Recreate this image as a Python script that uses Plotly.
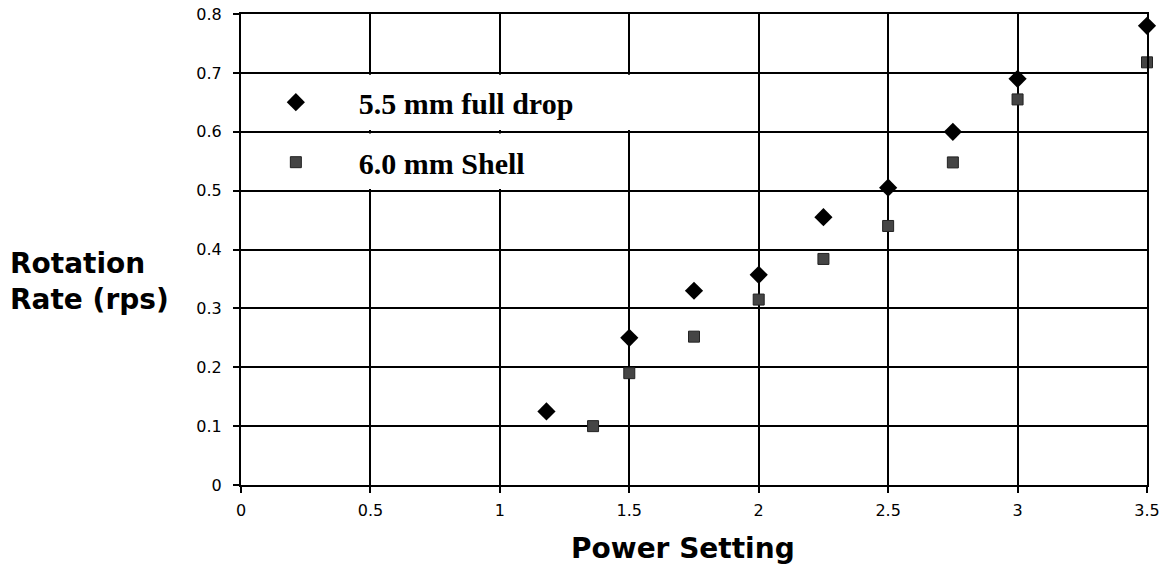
import plotly.graph_objects as go

# Data
power_full = [1.18, 1.5, 1.75, 2.0, 2.25, 2.5, 2.75, 3.0, 3.5]
rate_full = [0.125, 0.25, 0.33, 0.357, 0.455, 0.505, 0.60, 0.69, 0.78]
power_shell = [1.36, 1.5, 1.75, 2.0, 2.25, 2.5, 2.75, 3.0, 3.5]
rate_shell = [0.10, 0.19, 0.252, 0.315, 0.384, 0.44, 0.548, 0.655, 0.718]
series_names = ["5.5 mm full drop", "6.0 mm Shell"]
x_ticks = [0, 0.5, 1, 1.5, 2, 2.5, 3, 3.5]
y_ticks = [0, 0.1, 0.2, 0.3, 0.4, 0.5, 0.6, 0.7, 0.8]

fig = go.Figure()
fig.add_trace(go.Scatter(
    x=power_full, y=rate_full, mode="markers", name=series_names[0],
    legendgroup="a", cliponaxis=False,
    marker=dict(symbol="diamond", size=14, color="black"),
))
fig.add_trace(go.Scatter(
    x=power_shell, y=rate_shell, mode="markers", name=series_names[1],
    legendgroup="b", cliponaxis=False,
    marker=dict(symbol="square", size=11, color="#454545",
                line=dict(color="#222", width=1)),
))

# white area behind legend (hides vertical grid lines there)
fig.add_shape(type="rect", layer="between", xref="x", yref="y",
              x0=0.02, x1=1.75, y0=0.603, y1=0.697,
              fillcolor="white", line=dict(width=0))
fig.add_shape(type="rect", layer="between", xref="x", yref="y",
              x0=0.02, x1=1.45, y0=0.503, y1=0.597,
              fillcolor="white", line=dict(width=0))

fig.update_layout(
    width=1169, height=566,
    margin=dict(l=241, r=22, t=14, b=81, autoexpand=False),
    paper_bgcolor="white", plot_bgcolor="white",
    showlegend=True,
    legend=dict(
        x=-0.009, y=0.868, xanchor="left", yanchor="top",
        bgcolor="rgba(0,0,0,0)", borderwidth=0,
        itemwidth=116, tracegroupgap=18,
        font=dict(family="Liberation Serif", size=30, color="black", weight="bold"),
    ),
    font=dict(family="DejaVu Sans", color="black"),
)
fig.update_xaxes(
    range=[0, 3.5], tickvals=x_ticks, ticktext=[str(v) for v in x_ticks],
    showgrid=True, gridcolor="black", gridwidth=2,
    showline=True, linecolor="black", linewidth=2, mirror=True,
    ticks="outside", ticklen=6, tickwidth=2, tickcolor="black",
    ticklabelstandoff=4, ticklabeloverflow="allow", automargin=False,
    tickfont=dict(size=16, family="DejaVu Sans"), zeroline=False,
)
fig.update_yaxes(
    range=[0, 0.8001], tickvals=y_ticks, ticktext=[str(v) for v in y_ticks],
    showgrid=True, gridcolor="black", gridwidth=2,
    showline=True, linecolor="black", linewidth=2, mirror=True,
    ticks="outside", ticklen=6, tickwidth=2, tickcolor="black",
    ticklabelstandoff=8, ticklabeloverflow="allow", automargin=False,
    tickfont=dict(size=16, family="DejaVu Sans"), zeroline=False,
)
fig.add_annotation(
    text="Rotation<br>Rate (rps)", xref="paper", yref="paper",
    x=-0.257, y=0.433, xanchor="left", yanchor="middle", align="left",
    showarrow=False, font=dict(size=28, family="DejaVu Sans", weight="bold"),
)
fig.add_annotation(
    text="Power Setting", xref="paper", yref="paper",
    x=0.488, y=-0.134, xanchor="center", yanchor="middle",
    showarrow=False, font=dict(size=28, family="DejaVu Sans", weight="bold"),
)

fig.write_html("out.html", config={"displayModeBar": False},
               post_script="document.body.style.margin='0';document.body.style.overflow='hidden';")
